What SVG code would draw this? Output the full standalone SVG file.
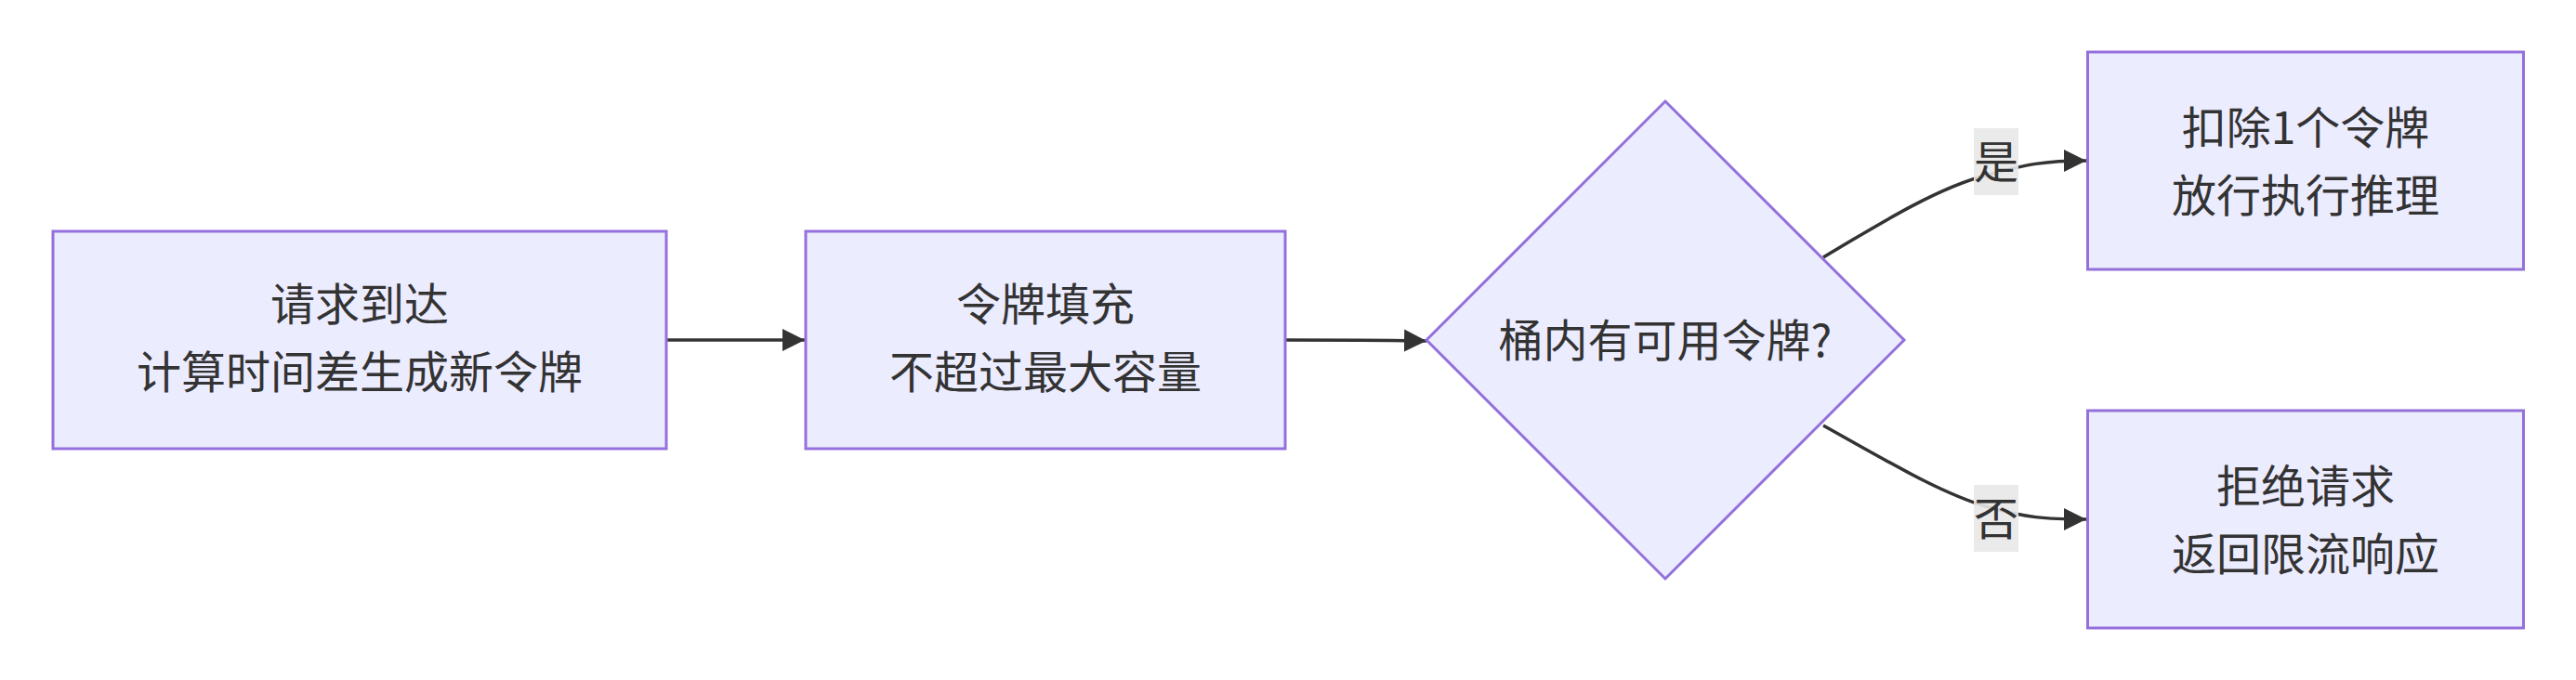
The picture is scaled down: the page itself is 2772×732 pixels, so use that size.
<svg xmlns="http://www.w3.org/2000/svg" width="2772" height="732" viewBox="0 0 2772 732">
<defs>
<style>
.node{fill:#ECECFF;stroke:#9370DB;stroke-width:3}
.lbl{font-family:"Noto Sans CJK SC","Liberation Sans",sans-serif;font-size:48px;fill:#333333;text-anchor:middle}
.edge{fill:none;stroke:#333333;stroke-width:3.5}
.elbg{fill:#E8E8E8;opacity:0.9}
</style>
<marker id="arrow" viewBox="0 0 10 10" refX="10" refY="5" markerUnits="userSpaceOnUse" markerWidth="24" markerHeight="25" orient="auto">
<path d="M0,0 L10,5 L0,10 z" fill="#333333"/>
</marker>
</defs>
<rect width="2772" height="732" fill="#FFFFFF"/>
<g id="connectors">
<path class="edge" d="M717,366 L866,366" marker-end="url(#arrow)"/>
<path class="edge" d="M1383,366 C1440,366 1480,366 1535,367" marker-end="url(#arrow)"/>
<path class="edge" d="M1962,277 C2030,236 2090,200 2140,188 C2180,177 2200,173 2245,173" marker-end="url(#arrow)"/>
<path class="edge" d="M1962,458 C2030,496 2090,532 2140,546 C2180,557 2200,559 2245,559" marker-end="url(#arrow)"/>
<g id="label-yes">
<rect class="elbg" x="2124" y="138" width="48" height="72"/>
<text class="lbl" x="2148" y="192">是</text>
</g>
<g id="label-no">
<rect class="elbg" x="2124" y="522" width="48" height="72"/>
<text class="lbl" x="2148" y="576">否</text>
</g>
</g>
<g id="node-A">
<rect class="node" x="57" y="249" width="660" height="234"/>
<text class="lbl" x="387" y="345">请求到达</text>
<text class="lbl" x="387" y="418">计算时间差生成新令牌</text>
</g>
<g id="node-B">
<rect class="node" x="867" y="249" width="516" height="234"/>
<text class="lbl" x="1125" y="345">令牌填充</text>
<text class="lbl" x="1125" y="418">不超过最大容量</text>
</g>
<g id="node-C">
<polygon class="node" points="1535,366 1792,109 2049,366 1792,623"/>
<text class="lbl" x="1792" y="384">桶内有可用令牌?</text>
</g>
<g id="node-D">
<rect class="node" x="2246.5" y="56" width="469" height="234"/>
<text class="lbl" x="2481" y="155">扣除1个令牌</text>
<text class="lbl" x="2481" y="228">放行执行推理</text>
</g>
<g id="node-E">
<rect class="node" x="2246.5" y="442" width="469" height="234"/>
<text class="lbl" x="2481" y="541">拒绝请求</text>
<text class="lbl" x="2481" y="614">返回限流响应</text>
</g>
</svg>
